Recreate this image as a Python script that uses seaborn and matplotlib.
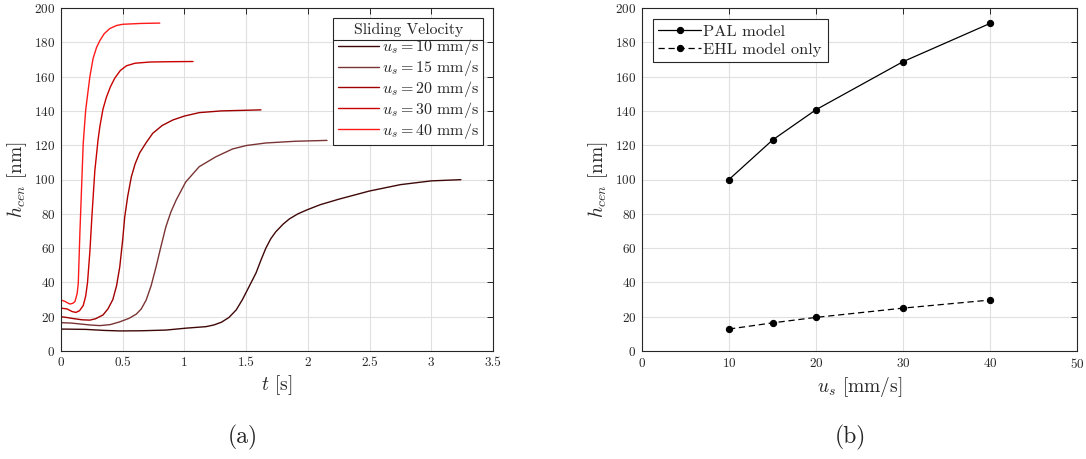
import numpy as np
import pandas as pd
import matplotlib
matplotlib.use("Agg")
import matplotlib.pyplot as plt
from matplotlib.lines import Line2D
import seaborn as sns

# ---------------- data ----------------
t10 = [0, 0.2, 0.35, 0.476, 0.65, 0.85, 1.01, 1.175, 1.24, 1.3, 1.36, 1.42, 1.47, 1.52, 1.58,
       1.62, 1.66, 1.7, 1.74, 1.8, 1.85, 1.92, 2.0, 2.1, 2.25, 2.5, 2.75, 3.0, 3.24]
h10 = [12.8, 12.6, 12.0, 11.7, 11.8, 12.2, 13.3, 14.2, 15.2, 16.8, 19.5, 24, 30, 37, 45.5,
       53, 60, 65.5, 69.5, 74, 77, 80, 82.5, 85.3, 88.5, 93.3, 97, 99.2, 99.9]
t15 = [0, 0.08, 0.15, 0.23, 0.315, 0.4, 0.476, 0.55, 0.61, 0.65, 0.69, 0.73, 0.77, 0.81, 0.85,
       0.89, 0.933, 1.01, 1.12, 1.256, 1.39, 1.5, 1.66, 1.9, 2.155]
h15 = [16.5, 16.3, 15.8, 15.2, 14.8, 15.4, 17, 19, 21.5, 24.5, 29.7, 38, 49, 61, 72.5,
       81, 88, 98.5, 107.5, 113.3, 117.8, 119.8, 121.3, 122.3, 122.8]
t20 = [0, 0.05, 0.1, 0.17, 0.234, 0.28, 0.34, 0.38, 0.42, 0.45, 0.476, 0.5, 0.516, 0.54, 0.57,
       0.6, 0.637, 0.69, 0.744, 0.82, 0.906, 1.0, 1.12, 1.3, 1.62]
h20 = [20, 19.5, 18.9, 18.2, 18, 18.8, 21, 24.5, 30, 38, 49, 65, 78, 90, 101.6,
       109, 115.5, 121.5, 127, 131.5, 134.7, 137, 139, 140, 140.6]
t30 = [0, 0.05, 0.09, 0.121, 0.15, 0.18, 0.2, 0.215, 0.234, 0.25, 0.274, 0.3, 0.315, 0.34,
       0.368, 0.4, 0.435, 0.48, 0.53, 0.6, 0.72, 0.9, 1.07]
h30 = [25, 24.5, 23, 22.5, 23.5, 26.5, 32, 40, 58, 78, 105, 123, 131, 141,
       148, 154, 159, 163.5, 166.3, 167.8, 168.5, 168.7, 168.8]
t40 = [0, 0.03, 0.06, 0.073, 0.095, 0.113, 0.131, 0.14, 0.153, 0.167, 0.18, 0.2, 0.234, 0.26,
       0.288, 0.315, 0.35, 0.395, 0.45, 0.5, 0.65, 0.80]
h40 = [29.7, 29.0, 27.8, 27.4, 27.8, 28.8, 33.6, 39.5, 68.7, 95.8, 121, 140.5, 160, 170.6,
       177, 181, 185, 188, 189.8, 190.5, 191, 191.2]

speeds = [10, 15, 20, 30, 40]
curves_t = [t10, t15, t20, t30, t40]
curves_h = [h10, h15, h20, h30, h40]
curve_colors = ["#3f0808", "#7a3434", "#a00000", "#c80000", "#ff1a1a"]

us = [10, 15, 20, 30, 40]
h_pal = [100, 123, 140.7, 168.7, 191]
h_ehl = [12.8, 16.4, 19.6, 25, 29.7]

# ---------------- style ----------------
sns.set_theme(style="white")
plt.rcParams["font.family"] = ["cmr10", "DejaVu Serif"]
plt.rcParams["mathtext.fontset"] = "cm"
plt.rcParams["axes.unicode_minus"] = False
plt.rcParams["axes.formatter.use_mathtext"] = True

W, H = 1086, 459
fig = plt.figure(figsize=(W / 100, H / 100), dpi=100)
axL = fig.add_axes([61 / W, 1 - 351 / H, 432 / W, 343 / H])
axR = fig.add_axes([642 / W, 1 - 351 / H, 435 / W, 343 / H])

def style_axes(ax):
    ax.grid(True, color="#e0e0e0", linewidth=0.8)
    ax.set_axisbelow(True)
    for s in ax.spines.values():
        s.set_color("#262626")
        s.set_linewidth(0.8)
        s.set_visible(True)
    ax.tick_params(direction="in", length=4, width=0.7, top=True, right=True,
                   labelsize=9.5, colors="#262626", pad=4)
    ax.set_facecolor("white")

# ---------------- left: time histories ----------------
for sp, tt, hh, c in zip(speeds, curves_t, curves_h, curve_colors):
    df = pd.DataFrame({"t": tt, "h": hh})
    sns.lineplot(data=df, x="t", y="h", ax=axL, color=c, linewidth=1.0,
                 sort=False, estimator=None, label=rf"$u_s = {sp}$ mm/s")
axL.set_xlim(0, 3.5)
axL.set_ylim(0, 200)
axL.set_xticks(np.arange(0, 3.51, 0.5))
axL.set_xticklabels(["0", "0.5", "1", "1.5", "2", "2.5", "3", "3.5"])
axL.set_yticks(np.arange(0, 201, 20))
axL.set_xlabel(r"$t$ [s]", fontsize=14, labelpad=3)
axL.set_ylabel(r"$h_{cen}$ [nm]", fontsize=14, labelpad=4)
style_axes(axL)
legL = axL.legend(title="Sliding Velocity", loc="upper right", fontsize=11.5, title_fontsize=11.3,
                  frameon=True, fancybox=False, edgecolor="#262626", framealpha=1,
                  borderaxespad=0.6, handlelength=2.6, handletextpad=0.15,
                  labelspacing=0.05, borderpad=0.3)
legL.get_frame().set_linewidth(0.8)

# ---------------- right: central film thickness ----------------
dfR = pd.DataFrame({"us": us * 2, "h": h_pal + h_ehl,
                    "model": ["PAL model"] * 5 + ["EHL model only"] * 5})
sns.lineplot(data=dfR, x="us", y="h", style="model", ax=axR, color="black",
             markers={"PAL model": "o", "EHL model only": "o"},
             dashes={"PAL model": "", "EHL model only": (5, 3)},
             markersize=4.5, linewidth=0.9, markeredgecolor="black", estimator=None)
axR.set_xlim(0, 50)
axR.set_ylim(0, 200)
axR.set_xticks(np.arange(0, 51, 10))
axR.set_yticks(np.arange(0, 201, 20))
axR.set_xlabel(r"$u_s$ [mm/s]", fontsize=14, labelpad=3)
axR.set_ylabel(r"$h_{cen}$ [nm]", fontsize=14, labelpad=4)
style_axes(axR)
hR, lR = axR.get_legend_handles_labels()
legR = axR.legend(hR, lR, loc="upper left", fontsize=11.8, frameon=True, fancybox=False,
                  edgecolor="#262626", framealpha=1, borderaxespad=0.65, handlelength=2.6,
                  handletextpad=0.15, labelspacing=0.2, borderpad=0.35)
legR.get_frame().set_linewidth(0.8)

fig.text(243 / W, 1 - 437 / H, "(a)", ha="center", va="center", fontsize=17)
fig.text(850 / W, 1 - 437 / H, "(b)", ha="center", va="center", fontsize=17)

# separator line under the legend title (MATLAB-style legend title)
fig.canvas.draw()
rend = fig.canvas.get_renderer()
tb = legL.get_title().get_window_extent(rend)
fb = legL.get_frame().get_window_extent(rend)
ysep = tb.y0 - 3
inv = fig.transFigure.inverted()
(x0f, yf), (x1f, _) = inv.transform([(fb.x0, ysep), (fb.x1, ysep)])
fig.add_artist(Line2D([x0f, x1f], [yf, yf], transform=fig.transFigure,
                      color="#262626", linewidth=0.8, zorder=10))

fig.savefig("out.png", dpi=100, facecolor="white")
